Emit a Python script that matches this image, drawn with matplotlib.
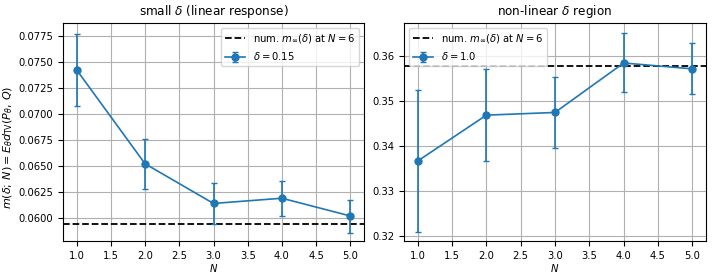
import numpy as np
import matplotlib.pyplot as plt

# --- data ---
N_vals = [1, 2, 3, 4, 5]

small_mean = [0.0742, 0.0652, 0.0614, 0.0619, 0.0602]
small_lo = [0.0707, 0.0628, 0.0594, 0.0602, 0.0586]
small_hi = [0.0776, 0.0676, 0.0634, 0.0636, 0.0617]
small_inf = 0.0594

big_mean = [0.3366, 0.3468, 0.3474, 0.3584, 0.3571]
big_lo = [0.3208, 0.3366, 0.3396, 0.3519, 0.3514]
big_hi = [0.3524, 0.3570, 0.3553, 0.3650, 0.3628]
big_inf = 0.3578

plt.rcParams['font.size'] = 7.2

fig = plt.figure(figsize=(7.13, 2.8), dpi=100)
ax1 = fig.add_axes([63 / 713, 1 - 241 / 280, 301 / 713, 218 / 280])
ax2 = fig.add_axes([404 / 713, 1 - 241 / 280, 302 / 713, 218 / 280])


def panel(ax, mean, lo, hi, inf, delta, title):
  mean = np.array(mean)
  yerr = [mean - np.array(lo), np.array(hi) - mean]
  ax.axhline(inf, color='k', ls='--', lw=1.3, label=r'num. $m_\infty(\delta)$ at $N=6$')
  ax.errorbar(N_vals, mean, yerr=yerr, marker='o', ms=5, capsize=2.5,
              color='#1f77b4', lw=1.2, label=r'$\delta=%s$' % delta)
  ax.set_title(title)
  ax.set_xlabel(r'$N$', labelpad=1)
  ax.grid(True)
  ax.set_xlim(0.8, 5.2)
  ax.set_xticks(np.arange(1.0, 5.01, 0.5))


panel(ax1, small_mean, small_lo, small_hi, small_inf, '0.15', r'small $\delta$ (linear response)')
ax1.set_ylim(0.0578, 0.0787)
ax1.set_ylabel(r'$m(\delta;\,N)=E_\theta d_{\rm TV}(P_\theta,\,Q)$', fontsize=8.0)
ax1.yaxis.set_label_coords(-0.16, 0.43)
ax1.legend(loc='upper right')

panel(ax2, big_mean, big_lo, big_hi, big_inf, '1.0', r'non-linear $\delta$ region')
ax2.set_ylim(0.3188, 0.3673)
ax2.legend(loc='upper left')

fig.savefig('out.png', dpi=100)
